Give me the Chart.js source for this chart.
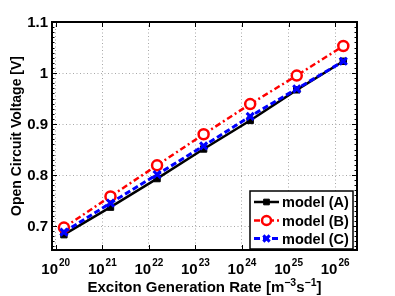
<!DOCTYPE html>
<html>
<head>
<meta charset="utf-8">
<script src="https://cdn.jsdelivr.net/npm/chart.js"></script>
<style>
  html, body { margin: 0; padding: 0; background: #fff; }
  canvas { display: block; }
</style>
</head>
<body>
<canvas id="voc-chart" width="395" height="296"></canvas>
<script>
// exciton generation rate [m^-3 s^-1]
const rates = [1.5e20, 1.5e21, 1.5e22, 1.5e23, 1.5e24, 1.5e25, 1.5e26];
const modelA = [0.683, 0.737, 0.793, 0.851, 0.907, 0.967, 1.023];
const modelB = [0.697, 0.758, 0.819, 0.880, 0.939, 0.995, 1.053];
const modelC = [0.688, 0.745, 0.801, 0.857, 0.915, 0.969, 1.023];
const seriesNames = ['model (A)', 'model (B)', 'model (C)'];
const xTickExps = [20, 21, 22, 23, 24, 25, 26];
const yTicks = [0.7, 0.8, 0.9, 1, 1.1];

const FONT = '"Liberation Sans", Arial, sans-serif';
const toPoints = (vals) => vals.map((v, i) => ({ x: rates[i], y: v }));

// MATLAB-ish frame, inward ticks, labels, titles and legend
const decorations = {
    id: 'decorations',
    afterDraw(chart) {
        const { ctx, chartArea: a, scales: { x, y } } = chart;
        ctx.save();

        // minor y ticks (every 0.01)
        ctx.strokeStyle = '#000';
        ctx.lineWidth = 1;
        for (let k = 66; k <= 110; k++) {
            const py = Math.round(y.getPixelForValue(k / 100)) + 0.5;
            const len = k % 10 === 0 ? 5 : 2.5;
            ctx.beginPath();
            ctx.moveTo(a.left, py); ctx.lineTo(a.left + len, py);
            ctx.moveTo(a.right, py); ctx.lineTo(a.right - len, py);
            ctx.stroke();
        }
        xTickExps.forEach((e) => {
            const px = Math.round(x.getPixelForValue(Math.pow(10, e))) + 0.5;
            ctx.beginPath();
            ctx.moveTo(px, a.bottom); ctx.lineTo(px, a.bottom - 5);
            ctx.moveTo(px, a.top); ctx.lineTo(px, a.top + 5);
            ctx.stroke();
        });

        // frame
        ctx.lineWidth = 2;
        ctx.strokeRect(a.left, a.top, a.right - a.left, a.bottom - a.top);

        // y tick labels
        ctx.fillStyle = '#000';
        ctx.font = 'bold 15px ' + FONT;
        ctx.textAlign = 'right';
        ctx.textBaseline = 'middle';
        yTicks.forEach((v) => {
            ctx.fillText(String(v), a.left - 4, y.getPixelForValue(v) + 1);
        });

        // x tick labels 10^n
        ctx.textBaseline = 'alphabetic';
        ctx.textAlign = 'left';
        xTickExps.forEach((e) => {
            const px = x.getPixelForValue(Math.pow(10, e));
            ctx.font = 'bold 15px ' + FONT;
            const wb = ctx.measureText('10').width;
            ctx.font = 'bold 10px ' + FONT;
            const we = ctx.measureText(String(e)).width;
            const x0 = px - (wb + we + 1) / 2;
            ctx.font = 'bold 15px ' + FONT;
            ctx.fillText('10', x0, 274);
            ctx.font = 'bold 10px ' + FONT;
            ctx.fillText(String(e), x0 + wb + 1, 266);
        });

        // x title with superscripts
        const parts = [
            ['Exciton Generation Rate [m', 15, 0],
            ['\u22123', 10.5, -6],
            ['s', 15, 0],
            ['\u22121', 10.5, -6],
            [']', 15, 0],
        ];
        let total = 0;
        parts.forEach((p) => { ctx.font = 'bold ' + p[1] + 'px ' + FONT; p.push(ctx.measureText(p[0]).width); total += p[3]; });
        let cx = (a.left + a.right) / 2 - total / 2;
        parts.forEach((p) => {
            ctx.font = 'bold ' + p[1] + 'px ' + FONT;
            ctx.fillText(p[0], cx, 292 + p[2]);
            cx += p[3];
        });

        // y title
        ctx.save();
        ctx.translate(17, (a.top + a.bottom) / 2);
        ctx.rotate(-Math.PI / 2);
        ctx.textAlign = 'center';
        ctx.textBaseline = 'middle';
        ctx.font = 'bold 14px ' + FONT;
        ctx.fillText('Open Circuit Voltage [V]', 0, 0);
        ctx.restore();

        // legend
        const lx = 250, ly = 191, lw = 103, lh = 58;
        ctx.fillStyle = '#fff';
        ctx.fillRect(lx, ly, lw, lh);
        ctx.lineWidth = 1.5;
        ctx.strokeStyle = '#000';
        ctx.strokeRect(lx, ly, lw, lh);
        const rows = [202, 220.5, 238.5];
        chart.data.datasets.forEach((ds, i) => {
            const ry = rows[i];
            ctx.save();
            ctx.strokeStyle = ds.borderColor;
            ctx.lineWidth = ds.borderWidth;
            ctx.setLineDash(ds.borderDash || []);
            ctx.beginPath();
            ctx.moveTo(254, ry); ctx.lineTo(279, ry);
            ctx.stroke();
            ctx.setLineDash([]);
            ctx.fillStyle = ds.pointBackgroundColor;
            ctx.strokeStyle = ds.pointBorderColor;
            ctx.lineWidth = ds.pointBorderWidth;
            Chart.helpers.drawPoint(ctx, {
                pointStyle: ds.pointStyle, radius: ds.pointRadius - 0.5, rotation: 0, borderWidth: ds.pointBorderWidth
            }, 266.5, ry);
            ctx.restore();
            ctx.fillStyle = '#000';
            ctx.font = 'bold 14.5px ' + FONT;
            ctx.textAlign = 'left';
            ctx.textBaseline = 'middle';
            ctx.fillText(seriesNames[i], 282, ry + 1);
        });

        ctx.restore();
    },
};

new Chart(document.getElementById('voc-chart'), {
    type: 'line',
    data: {
        datasets: [
            {
                label: seriesNames[0],
                data: toPoints(modelA),
                borderColor: '#000000',
                borderWidth: 2.5,
                pointStyle: 'rect',
                pointRadius: 4.5,
                pointBorderWidth: 1,
                pointBackgroundColor: '#000000',
                pointBorderColor: '#000000',
                order: 2,
            },
            {
                label: seriesNames[1],
                data: toPoints(modelB),
                borderColor: '#ff0000',
                borderWidth: 2.5,
                borderDash: [6, 3, 2, 3],
                pointStyle: 'circle',
                pointRadius: 5,
                pointBorderWidth: 2.5,
                pointBackgroundColor: '#ffffff',
                pointBorderColor: '#ff0000',
                order: 1,
            },
            {
                label: seriesNames[2],
                data: toPoints(modelC),
                borderColor: '#0000ff',
                borderWidth: 3,
                borderDash: [6, 3],
                pointStyle: 'crossRot',
                pointRadius: 5,
                pointBorderWidth: 3,
                pointBackgroundColor: '#0000ff',
                pointBorderColor: '#0000ff',
                order: 0,
            },
        ],
    },
    options: {
        responsive: false,
        animation: false,
        layout: { padding: { top: 22, right: 38, left: 0, bottom: 0 } },
        plugins: {
            legend: { display: false },
            tooltip: { enabled: false },
        },
        scales: {
            x: {
                type: 'logarithmic',
                min: Math.pow(10, 19.92),
                max: Math.pow(10, 26.47),
                afterBuildTicks: (s) => { s.ticks = xTickExps.map((e) => ({ value: Math.pow(10, e) })); },
                afterFit: (s) => { s.height = 46; },
                ticks: { display: false },
                grid: { color: '#a8a8a8', lineWidth: 1, drawTicks: false },
                border: { display: false, dash: [1, 2.5] },
            },
            y: {
                min: 0.653,
                max: 1.1,
                afterBuildTicks: (s) => { s.ticks = yTicks.map((v) => ({ value: v })); },
                afterFit: (s) => { s.width = 52; },
                ticks: { display: false },
                grid: { color: '#a8a8a8', lineWidth: 1, drawTicks: false },
                border: { display: false, dash: [1, 2.5] },
            },
        },
    },
    plugins: [decorations],
});
</script>
</body>
</html>
